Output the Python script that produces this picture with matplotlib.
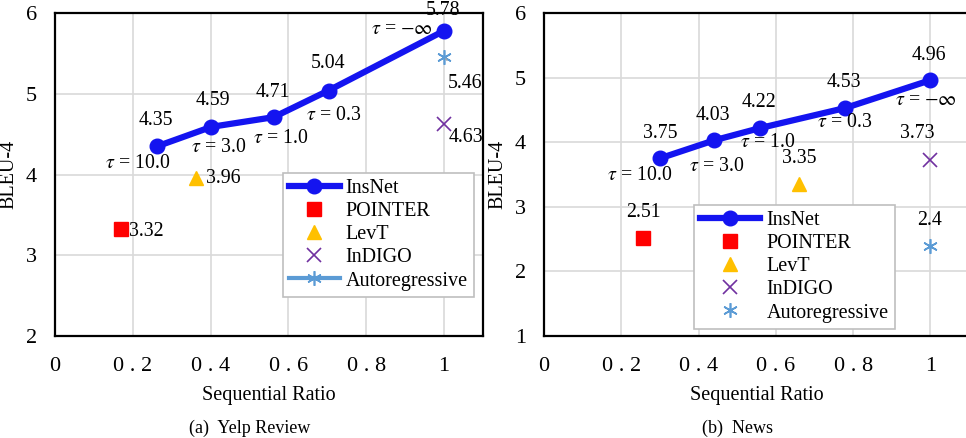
import matplotlib
matplotlib.use("Agg")
import matplotlib.pyplot as plt

plt.rcParams['font.family'] = ['Liberation Serif', 'DejaVu Serif']
plt.rcParams['mathtext.fontset'] = 'stix'

# ---- data: Yelp Review ----
yelp_insnet_x = [0.263, 0.402, 0.562, 0.703, 1.0]
yelp_insnet_y = [4.35, 4.59, 4.71, 5.04, 5.78]
yelp_tau = [r"$\tau$ = 10.0", r"$\tau$ = 3.0", r"$\tau$ = 1.0", r"$\tau$ = 0.3", r"$\tau$ = $-\infty$"]
yelp_pointer = (0.17, 3.32)
yelp_levt = (0.363, 3.96)
yelp_indigo = (1.0, 4.63)
yelp_ar = (1.0, 5.46)

# ---- data: News ----
news_insnet_x = [0.30, 0.441, 0.56, 0.78, 1.0]
news_insnet_y = [3.75, 4.03, 4.22, 4.53, 4.96]
news_tau = [r"$\tau$ = 10.0", r"$\tau$ = 3.0", r"$\tau$ = 1.0", r"$\tau$ = 0.3", r"$\tau$ = $-\infty$"]
news_pointer = (0.257, 2.51)
news_levt = (0.66, 3.35)
news_indigo = (1.0, 3.73)
news_ar = (1.0, 2.4)

blue = '#1414f0'
red = '#ff0000'
gold = '#ffc000'
purple = '#7030a0'
lblue = '#5b9bd5'
fs = 14.3

fig = plt.figure(figsize=(9.66, 4.38), dpi=100)
ax1 = fig.add_axes([55/966, 102/438, 428/966, 323/438])
ax2 = fig.add_axes([544/966, 102/438, 425/966, 323/438])


def setup(ax, ylo):
    ax.set_xlim(0, 1.1)
    ax.set_ylim(ylo, 6)
    ax.set_xticks([0, 0.2, 0.4, 0.6, 0.8, 1.0])
    ax.set_xticklabels(['0', '0 . 2', '0 . 4', '0 . 6', '0 . 8', '1'])
    ax.set_yticks(range(ylo, 7))
    ax.grid(True, color='#d9d9d9', linewidth=1.2)
    ax.set_axisbelow(True)
    ax.tick_params(axis='x', length=0, pad=15, labelsize=16)
    ax.tick_params(axis='y', length=0, pad=13, labelsize=16)
    for s in ax.spines.values():
        s.set_linewidth(1.6)
        s.set_color('black')
    ax.set_xlabel('Sequential Ratio', fontsize=14.5, labelpad=7)
    ax.set_ylabel('BLEU-4', fontsize=14.5, labelpad=5)


def lab(ax, txt, x, y, dx, dy, **kw):
    ax.annotate(txt, (x, y), xytext=(dx, dy), textcoords='offset pixels',
                ha='center', va='center', fontsize=fs, annotation_clip=False, **kw)


# ---- left: Yelp ----
setup(ax1, 2)
ax1.plot(yelp_insnet_x, yelp_insnet_y, color=blue, lw=4.5, marker='o', ms=10.5, label='InsNet', zorder=3)
ax1.plot(*yelp_pointer, ls='none', marker='s', color=red, ms=9.5, label='POINTER')
ax1.plot(*yelp_levt, ls='none', marker='^', color=gold, ms=9.5, label='LevT')
ax1.plot(*yelp_indigo, ls='none', marker='x', color=purple, ms=9.5, mew=1.2, label='InDIGO')
ax1.plot(*yelp_ar, ls='-', lw=3, marker=(6, 2, 0), color=lblue, ms=10.5, mew=1.2, label='Autoregressive')

yoff = [(-1, 26), (1, 26), (-1, 25), (-1, 27), (-1, 20)]
toff = [(-20, -17), (7, -21), (7, -21), (5, -25), (-42, 1)]
for x, y, t, o1, o2 in zip(yelp_insnet_x, yelp_insnet_y, yelp_tau, yoff, toff):
    lab(ax1, f'{y:.2f}', x, y, *o1)
    lab(ax1, t, x, y, *o2)
lab(ax1, '5.46', *yelp_ar, 21, -27,
    arrowprops=dict(arrowstyle='-', color='#a6a6a6', lw=1, shrinkA=10, shrinkB=2))
lab(ax1, '4.63', *yelp_indigo, 22, -14)
lab(ax1, '3.96', *yelp_levt, 27, -1)
lab(ax1, '3.32', *yelp_pointer, 25, -2)

leg1 = ax1.legend(loc='upper left', bbox_to_anchor=(0.533, 0.505), borderaxespad=0,
                  fontsize=14.5, frameon=True, fancybox=False, edgecolor='#bfbfbf',
                  framealpha=1, handlelength=2.5, handletextpad=0.3, labelspacing=0.2,
                  borderpad=0.3)
leg1.get_frame().set_linewidth(1.2)

# ---- right: News ----
setup(ax2, 1)
ax2.plot(news_insnet_x, news_insnet_y, color=blue, lw=4.5, marker='o', ms=10.5, label='InsNet', zorder=3)
ax2.plot(*news_pointer, ls='none', marker='s', color=red, ms=9.5, label='POINTER')
ax2.plot(*news_levt, ls='none', marker='^', color=gold, ms=9.5, label='LevT')
ax2.plot(*news_indigo, ls='none', marker='x', color=purple, ms=9.5, mew=1.2, label='InDIGO')
ax2.plot(*news_ar, ls='none', marker=(6, 2, 0), color=lblue, ms=10.5, mew=1.2, label='Autoregressive')

yoff = [(0, 25), (-2, 25), (-1, 25), (-1, 25), (-1, 25)]
toff = [(-20, -17), (2, -26), (7, -15), (-1, -15), (-4, -20)]
for x, y, t, o1, o2 in zip(news_insnet_x, news_insnet_y, news_tau, yoff, toff):
    lab(ax2, f'{y:.2f}', x, y, *o1)
    lab(ax2, t, x, y, *o2)
lab(ax2, '3.73', *news_indigo, -13, 26,
    arrowprops=dict(arrowstyle='-', color='#a6a6a6', lw=1, shrinkA=9, shrinkB=2))
lab(ax2, '3.35', *news_levt, 0, 26)
lab(ax2, '2.51', *news_pointer, 0, 26)
lab(ax2, '2.4', *news_ar, -1, 25)

leg2 = ax2.legend(loc='upper left', bbox_to_anchor=(0.353, 0.406), borderaxespad=0,
                  fontsize=14.5, frameon=True, fancybox=False, edgecolor='#bfbfbf',
                  framealpha=1, handlelength=3.0, handletextpad=0.3, labelspacing=0.2,
                  borderpad=0.3)
leg2.get_frame().set_linewidth(1.2)

fig.text(250/966, 1 - 428/438, '(a)  Yelp Review', ha='center', va='center', fontsize=13)
fig.text(738/966, 1 - 428/438, '(b)  News', ha='center', va='center', fontsize=13)

fig.savefig('out.png', dpi=100)
